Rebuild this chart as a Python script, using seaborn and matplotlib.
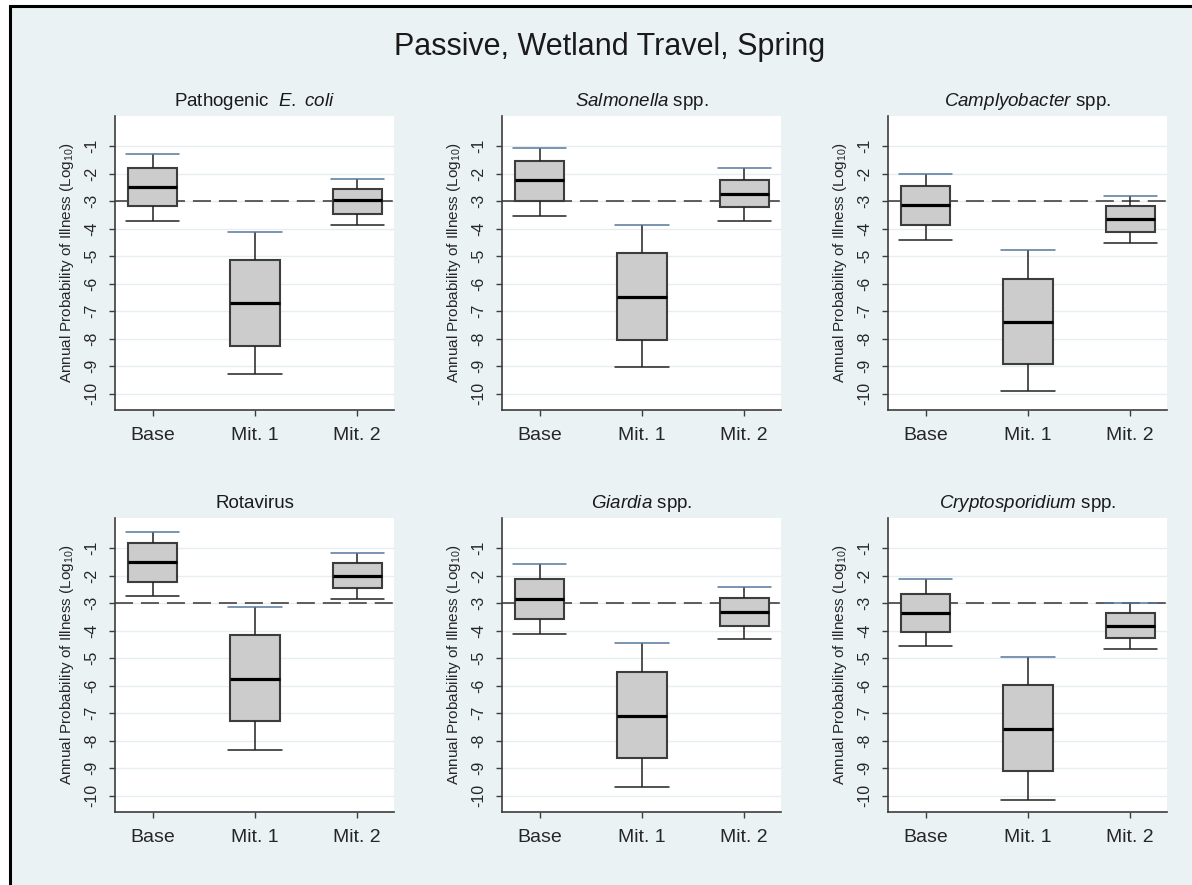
import pandas as pd
import numpy as np
import matplotlib
matplotlib.use("Agg")
import matplotlib.pyplot as plt
from matplotlib.patches import Rectangle
import seaborn as sns

# 1. data: five-number summaries (lower whisker, Q1, median, Q3, upper whisker), log10 scale
scenarios = ["Base", "Mit. 1", "Mit. 2"]

ecoli = [[-3.73, -3.18, -2.50, -1.81, -1.30],
         [-9.28, -8.28, -6.70, -5.14, -4.13],
         [-3.85, -3.45, -2.97, -2.54, -2.18]]
salmonella = [[-3.54, -2.98, -2.24, -1.53, -1.05],
              [-9.05, -8.04, -6.49, -4.87, -3.86],
              [-3.73, -3.21, -2.74, -2.23, -1.81]]
campylobacter = [[-4.41, -3.86, -3.15, -2.46, -2.00],
                 [-9.92, -8.91, -7.38, -5.83, -4.77],
                 [-4.54, -4.13, -3.65, -3.18, -2.82]]
rotavirus = [[-2.73, -2.22, -1.51, -0.81, -0.40],
             [-8.33, -7.27, -5.75, -4.15, -3.14],
             [-2.85, -2.45, -2.02, -1.53, -1.17]]
giardia = [[-4.13, -3.58, -2.83, -2.13, -1.58],
           [-9.70, -8.64, -7.09, -5.51, -4.46],
           [-4.32, -3.82, -3.33, -2.81, -2.41]]
crypto = [[-4.55, -4.05, -3.35, -2.65, -2.13],
          [-10.15, -9.10, -7.57, -5.96, -4.96],
          [-4.68, -4.28, -3.83, -3.37, -2.99]]

panel_data = [ecoli, salmonella, campylobacter, rotavirus, giardia, crypto]
panel_titles = ["Pathogenic  $\\mathit{E.\\ coli}$",
                "$\\mathit{Salmonella}$ spp.",
                "$\\mathit{Camplyobacter}$ spp.",
                "Rotavirus",
                "$\\mathit{Giardia}$ spp.",
                "$\\mathit{Cryptosporidium}$ spp."]
threshold = -3
yticks = list(range(-10, 0))

# 2. style
sns.set_style("white")
plt.rcParams['font.family'] = ['Liberation Sans', 'DejaVu Sans']
plt.rcParams['mathtext.fontset'] = 'custom'
plt.rcParams['mathtext.rm'] = 'Liberation Sans'
plt.rcParams['mathtext.it'] = 'Liberation Sans:italic'
plt.rcParams['text.color'] = '#1a1a1a'

bg = '#EAF2F3'
edge = '#3d3d3d'

fig = plt.figure(figsize=(11.92, 8.85), dpi=100)
fig.patch.set_facecolor('white')
fig.add_artist(Rectangle((9.5 / 1192, -0.1), 1.2, 1.1 - 5.5 / 885,
                         transform=fig.transFigure, facecolor=bg,
                         edgecolor='black', lw=2.2, zorder=-10))

W, H = 1192, 885
lefts = [115, 502, 888]
tops = [116, 518]
aw, ah = 279, 294

for i, (stats, title) in enumerate(zip(panel_data, panel_titles)):
    r, c = divmod(i, 3)
    ax = fig.add_axes([lefts[c] / W, 1 - (tops[r] + ah) / H, aw / W, ah / H])
    ax.set_facecolor('white')

    # long table: the five summary values per scenario give exact quartiles
    rows = []
    for s, vals in zip(scenarios, stats):
        for v in vals:
            rows.append({'scenario': s, 'value': v})
    df = pd.DataFrame(rows)

    ax.axhline(threshold, color='#333333', lw=1.1, dashes=(11.8, 5.2), zorder=1.5)
    sns.boxplot(data=df, x='scenario', y='value', order=scenarios, ax=ax,
                whis=(0, 100), width=0.48, color='#cccccc', saturation=1,
                linecolor=edge, linewidth=1.5, capwidths=0.52,
                medianprops={'color': 'black', 'linewidth': 2.3},
                whiskerprops={'color': '#222222', 'linewidth': 1.1},
                capprops={'color': '#222222', 'linewidth': 1.1})

    # upper caps in steel blue
    caps = [ln for ln in ax.lines
            if len(ln.get_xdata()) == 2
            and abs((ln.get_xdata()[1] - ln.get_xdata()[0]) - 0.52) < 1e-6]
    for j in range(len(scenarios)):
        mine = [ln for ln in caps if abs(np.mean(ln.get_xdata()) - j) < 1e-6]
        if mine:
            top = max(mine, key=lambda ln: ln.get_ydata()[0])
            top.set_color('#56779a')

    ax.set_ylim(-10.6, 0.1)
    ax.set_xlim(-0.37, 2.36)
    ax.set_yticks(yticks)
    ax.set_yticklabels([str(t) for t in yticks])
    ax.yaxis.grid(True, color='#e6eef1', lw=1)
    ax.set_axisbelow(True)
    for sp in ['top', 'right']:
        ax.spines[sp].set_visible(False)
    for sp in ['left', 'bottom']:
        ax.spines[sp].set_color(edge)
        ax.spines[sp].set_linewidth(1.2)
    ax.tick_params(axis='both', direction='out', length=4, width=1, color=edge,
                   left=True, bottom=True)
    ax.tick_params(axis='y', labelsize=11.5, pad=7)
    ax.tick_params(axis='x', labelsize=14, pad=8)
    for lab in ax.get_yticklabels():
        lab.set_rotation(90)
        lab.set_va('center')
    ax.set_xlabel('')
    ax.set_ylabel('Annual Probability of Illness (Log$_{\\mathregular{10}}$)',
                  fontsize=11, labelpad=6)
    ax.set_title(title, fontsize=13.5, pad=7)

fig.text(610 / W, 1 - 47 / H, 'Passive, Wetland Travel, Spring',
         fontsize=22, ha='center', va='center')

plt.savefig('out.png', dpi=100)
